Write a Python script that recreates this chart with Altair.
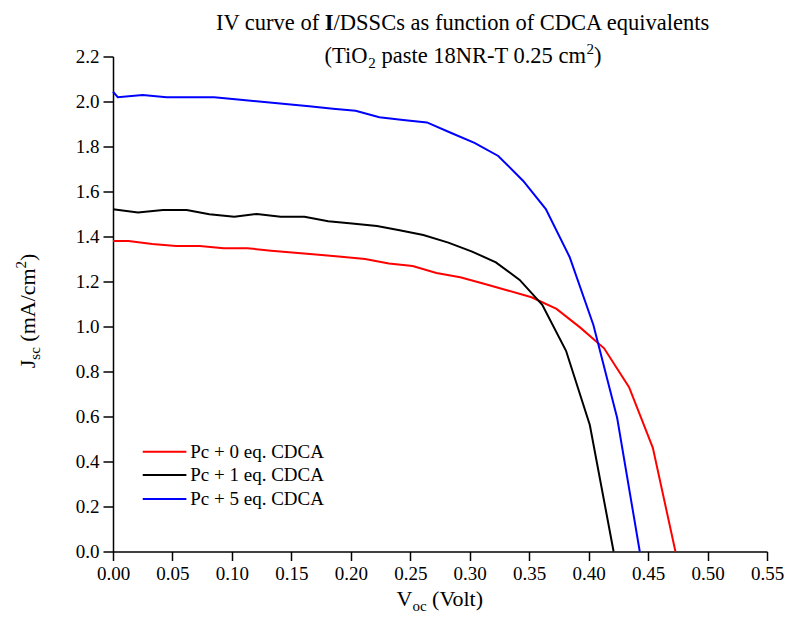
import altair as alt
import pandas as pd

# ---------------- data ----------------
series_names = ["Pc + 0 eq. CDCA", "Pc + 1 eq. CDCA", "Pc + 5 eq. CDCA"]
series_colors = ["#FF0000", "#000000", "#0000FF"]

v_red = [0.000, 0.013, 0.033, 0.053, 0.073, 0.093, 0.113, 0.133, 0.153, 0.173,
         0.192, 0.212, 0.232, 0.252, 0.272, 0.292, 0.312, 0.332, 0.352, 0.373,
         0.393, 0.413, 0.434, 0.454, 0.473]
j_red = [1.380, 1.380, 1.367, 1.358, 1.358, 1.348, 1.348, 1.337, 1.328, 1.319,
         1.310, 1.300, 1.280, 1.269, 1.238, 1.219, 1.190, 1.160, 1.130, 1.078,
         0.995, 0.903, 0.730, 0.461, 0.000]

v_black = [0.000, 0.021, 0.042, 0.062, 0.081, 0.102, 0.121, 0.141, 0.161, 0.181,
           0.201, 0.222, 0.241, 0.261, 0.282, 0.302, 0.322, 0.342, 0.361, 0.381,
           0.401, 0.421]
j_black = [1.521, 1.507, 1.518, 1.518, 1.499, 1.488, 1.500, 1.488, 1.488, 1.468,
           1.458, 1.447, 1.428, 1.407, 1.373, 1.333, 1.285, 1.207, 1.096, 0.892,
           0.562, 0.000]

v_blue = [0.000, 0.004, 0.025, 0.045, 0.065, 0.085, 0.105, 0.125, 0.145, 0.165,
          0.185, 0.204, 0.224, 0.244, 0.264, 0.284, 0.304, 0.324, 0.345, 0.364,
          0.384, 0.404, 0.424, 0.443]
j_blue = [2.044, 2.019, 2.029, 2.019, 2.019, 2.019, 2.009, 1.999, 1.989, 1.979,
          1.968, 1.959, 1.930, 1.918, 1.907, 1.861, 1.816, 1.758, 1.647, 1.522,
          1.309, 1.007, 0.593, 0.000]

x_ticks = [0.0, 0.025, 0.05, 0.075, 0.1, 0.125, 0.15, 0.175, 0.2, 0.225, 0.25,
           0.275, 0.3, 0.325, 0.35, 0.375, 0.4, 0.425, 0.45, 0.475, 0.5, 0.525, 0.55]
y_ticks = [0.0, 0.1, 0.2, 0.3, 0.4, 0.5, 0.6, 0.7, 0.8, 0.9, 1.0, 1.1, 1.2,
           1.3, 1.4, 1.5, 1.6, 1.7, 1.8, 1.9, 2.0, 2.1, 2.2]

rows = []
for name, vs, js in zip(series_names, [v_red, v_black, v_blue], [j_red, j_black, j_blue]):
    for v, j in zip(vs, js):
        rows.append({"series": name, "V": v, "J": j})
df = pd.DataFrame(rows)

# legend entries (placed in data space, lower-left of the plot)
leg = pd.DataFrame({
    "series": series_names,
    "x1": [0.025] * 3,
    "x2": [0.0617] * 3,
    "tx": [0.065] * 3,
    "y": [0.4436, 0.340, 0.2333],
})

FONT = "Liberation Serif"
W, H = 654, 495

x_scale = alt.Scale(domain=[0, 0.55], nice=False, zero=False)
y_scale = alt.Scale(domain=[0, 2.2], nice=False, zero=False)
color_scale = alt.Scale(domain=series_names, range=series_colors)

x_major = "round(datum.value*1000) % 50 == 0"
y_major = "round(datum.value*10) % 2 == 0"

common_axis = dict(
    grid=False, title=None, labelOverlap=False, labelFlush=False,
    labelFont=FONT, labelFontSize=19, labelColor="black",
    domainColor="black", domainWidth=1.5, tickColor="black", tickWidth=1.5,
)
x_axis = alt.Axis(
    values=x_ticks,
    labelExpr=f"{x_major} ? format(datum.value, '.2f') : ''",
    tickSize={"condition": {"test": x_major, "value": 9}, "value": 5},
    labelPadding=4, **common_axis,
)
y_axis = alt.Axis(
    values=y_ticks,
    labelExpr=f"{y_major} ? format(datum.value, '.1f') : ''",
    tickSize={"condition": {"test": y_major, "value": 10}, "value": 6},
    labelPadding=4, **common_axis,
)

lines = alt.Chart(df).mark_line(strokeWidth=2).encode(
    x=alt.X("V:Q", scale=x_scale, axis=x_axis, title=None),
    y=alt.Y("J:Q", scale=y_scale, axis=y_axis, title=None),
    color=alt.Color("series:N", scale=color_scale, legend=None),
)

leg_rules = alt.Chart(leg).mark_rule(strokeWidth=2).encode(
    x=alt.X("x1:Q", title=None),
    x2="x2:Q",
    y=alt.Y("y:Q", title=None),
    color=alt.Color("series:N", scale=color_scale, legend=None),
)
leg_text = alt.Chart(leg).mark_text(
    align="left", baseline="middle", font=FONT, fontSize=19, color="black"
).encode(
    x=alt.X("tx:Q", title=None),
    y=alt.Y("y:Q", title=None),
    text="series:N",
)

one = pd.DataFrame({"k": [0]})


def seg(text, x, y, size, weight="normal", angle=0, align="left"):
    return alt.Chart(one).mark_text(
        font=FONT, fontSize=size, fontWeight=weight, angle=angle,
        align=align, baseline="alphabetic", color="black",
    ).encode(x=alt.value(x), y=alt.value(y), text=alt.value(text))


TS = 22.5   # title size
SS = 15     # sub/superscript size
# title line 1
t1y = -27
texts = [
    seg("IV curve of", 206.2, t1y, TS, align="right"),
    seg("I", 211.8, t1y, TS, weight="bold"),
    seg("/DSSCs as function of CDCA equivalents", 220.6, t1y, TS),
]
# title line 2
t2y = 6
texts += [
    seg("(TiO", 211.6, t2y, TS),
    seg("2", 255.3, t2y + 5, SS),
    seg("paste 18NR-T 0.25 cm", 268.4, t2y, TS),
    seg("2", 473.4, t2y - 9, SS),
    seg(")", 480.9, t2y, TS),
]
# x axis title
AS = 22
xy = 549.5
xs = 283.5
texts += [
    seg("V", xs, xy, AS),
    seg("oc", xs + 15.9, xy + 5, SS),
    seg("(Volt)", xs + 35.6, xy, AS),
]
# y axis title (rotated)
yx = -78
yb = 311.8
texts += [
    seg("J", yx, yb, AS, angle=270),
    seg("sc", yx + 5, yb - 8.6, SS, angle=270),
    seg("(mA/cm", yx, yb - 26.6, AS, angle=270),
    seg("2", yx - 9, yb - 99.9, SS, angle=270),
    seg(")", yx, yb - 107.4, AS, angle=270),
]

chart = alt.layer(lines, leg_rules, leg_text, *texts).properties(
    width=W, height=H,
    autosize=alt.AutoSizeParams(type="none"),
    padding={"left": 105, "top": 48.5, "right": 18, "bottom": 65.5},
).configure_view(stroke=None).configure_axis(
    domainColor="black", domainWidth=1.5, tickColor="black", tickWidth=1.5,
    labelFont=FONT, labelFontSize=19, labelColor="black",
)

chart.save("out.html", embed_options={"renderer": "svg", "actions": False})
